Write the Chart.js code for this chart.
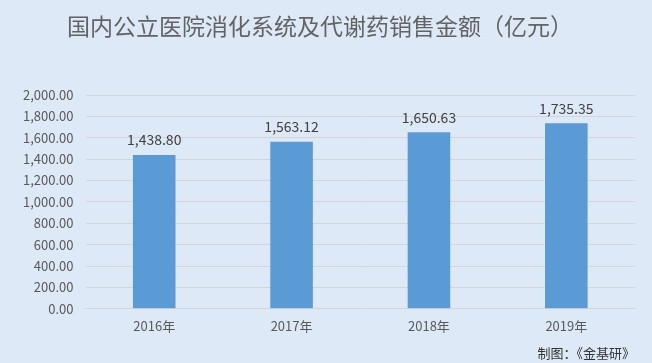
<!DOCTYPE html>
<html>
<head>
<meta charset="utf-8">
<script src="https://cdn.jsdelivr.net/npm/chart.js@4.4.0/dist/chart.umd.min.js"></script>
<style>
  html, body { margin: 0; padding: 0; background: #dde9f6; }
  #wrap { width: 652px; height: 363px; }
</style>
</head>
<body>
<div id="wrap"><canvas id="barCanvas"></canvas></div>
<script>
const years = ["2016年", "2017年", "2018年", "2019年"];
const sales = [1438.80, 1563.12, 1650.63, 1735.35];
const chartTitle = "国内公立医院消化系统及代谢药销售金额（亿元）";
const source = "制图：《金基研》";

const fmt = v => v.toLocaleString("en-US", { minimumFractionDigits: 2, maximumFractionDigits: 2 });
const font = "'Noto Sans CJK SC', 'Noto Sans', sans-serif";

// title and values over the bars
const extras = {
  id: "extras",
  afterDraw(chart) {
    const ctx = chart.ctx;
    ctx.save();
    ctx.font = "23px " + font;
    ctx.fillStyle = "#636363";
    ctx.textAlign = "center";
    ctx.textBaseline = "middle";
    ctx.fillText(chartTitle, 320, 26);
    ctx.restore();
  },
  afterDatasetsDraw(chart) {
    const ctx = chart.ctx;
    const meta = chart.getDatasetMeta(0);
    ctx.save();
    ctx.font = "14px " + font;
    ctx.fillStyle = "#404040";
    ctx.textAlign = "center";
    ctx.textBaseline = "bottom";
    meta.data.forEach((bar, i) => {
      ctx.fillText(fmt(sales[i]), bar.x, bar.y - 8);
    });
    ctx.restore();
  }
};

const barCanvas = document.getElementById("barCanvas");

new Chart(barCanvas, {
  type: "bar",
  data: {
    labels: years,
    datasets: [{
      data: sales,
      backgroundColor: "#5b9bd5",
      categoryPercentage: 1,
      barPercentage: 0.31
    }]
  },
  options: {
    responsive: true,
    maintainAspectRatio: false,
    animation: false,
    layout: { padding: { left: 11, right: 17, top: 95, bottom: 0 } },
    plugins: {
      legend: { display: false },
      tooltip: { enabled: false },
      title: { display: false },
      subtitle: {
        display: true,
        position: "bottom",
        align: "end",
        text: source,
        color: "#333333",
        font: { family: font, size: 13 },
        padding: { top: 3, bottom: 2 }
      }
    },
    scales: {
      y: {
        min: 0,
        max: 2000,
        ticks: {
          stepSize: 200,
          color: "#595959",
          padding: 12,
          font: { family: font, size: 13 },
          callback: v => fmt(v)
        },
        grid: { color: "#d5d5d5", drawTicks: false },
        border: { display: false }
      },
      x: {
        ticks: {
          color: "#595959",
          padding: 9,
          font: { family: font, size: 13 }
        },
        grid: { display: false, drawTicks: false },
        border: { color: "#d5d5d5" }
      }
    }
  },
  plugins: [extras]
});
</script>
</body>
</html>
